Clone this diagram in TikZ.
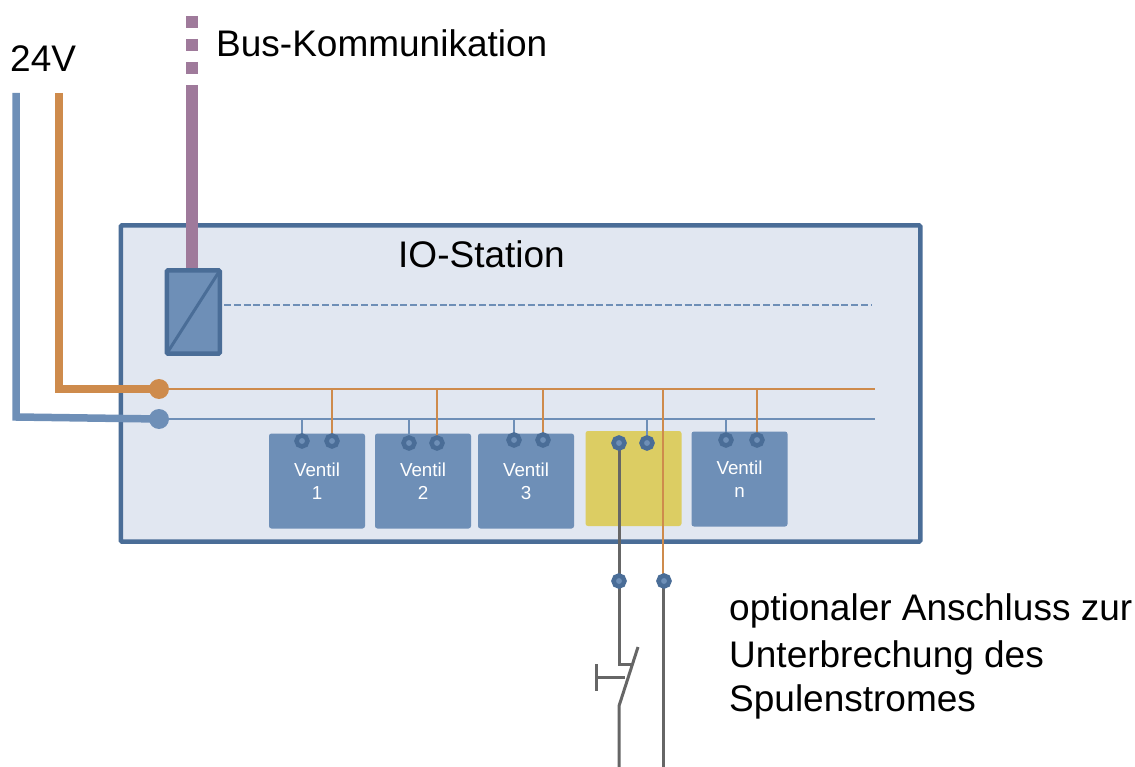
\documentclass[tikz,border=0pt]{standalone}
\usepackage{fontspec}
\setmainfont{Liberation Sans}
\definecolor{cblue}{HTML}{6E8FB7}
\definecolor{cdark}{HTML}{4A6D97}
\definecolor{cfill}{HTML}{E1E7F1}
\definecolor{corange}{HTML}{CE8B4C}
\definecolor{cpurple}{HTML}{9F7A9B}
\definecolor{cyellow}{HTML}{DCCD63}
\definecolor{cgray}{HTML}{666666}
\pgfdeclarelayer{under}
\pgfdeclarelayer{wires}
\pgfsetlayers{under,wires,main}
\tikzset{
  station/.style={draw=cdark,fill=cfill,line width=4.5pt,minimum width=799.5pt,minimum height=316pt,inner sep=0pt,rounded corners=1pt},
  converter/.style={draw=cdark,fill=cblue,line width=4.5pt,minimum width=53pt,minimum height=83pt,inner sep=0pt,outer sep=0pt,rounded corners=1pt},
  valve/.style={fill=cblue,text=white,minimum width=96pt,minimum height=95pt,inner sep=0pt,outer sep=0pt,rounded corners=2.5pt,align=center,font=\fontsize{18.8}{23}\selectfont},
  optbox/.style={fill=cyellow,minimum width=96pt,minimum height=95pt,inner sep=0pt,outer sep=0pt,rounded corners=2.5pt},
  term/.style={circle,draw=cdark,fill=cblue,line width=4.5pt,minimum size=11pt,inner sep=0pt},
  dotO/.style={circle,fill=corange,minimum size=20pt,inner sep=0pt},
  dotB/.style={circle,fill=cblue,minimum size=20pt,inner sep=0pt},
  label/.style={anchor=base west,inner sep=0pt,font=\fontsize{37}{44}\selectfont},
  thickO/.style={draw=corange,line width=7.5pt,line join=miter},
  thickB/.style={draw=cblue,line width=7.5pt,line join=miter},
  thinO/.style={draw=corange,line width=2.8pt},
  thinB/.style={draw=cblue,line width=2.6pt},
  thinG/.style={draw=cgray,line width=3pt},
}
\begin{document}
\begin{tikzpicture}[x=1pt,y=-1pt]
\useasboundingbox (0,0) rectangle (1135,767);
\begin{pgfonlayer}{under}
  \node[station] (io) at (520.5,383.5) {};
  \node[valve] (v1) at (317,481) {Ventil\\1};
  \node[valve] (v2) at (423,481) {Ventil\\2};
  \node[valve] (v3) at (526,481) {Ventil\\3};
  \node[optbox] (opt) at (633.5,478.5) {};
  \node[valve] (vn) at (739.5,479) {Ventil\\n};
\end{pgfonlayer}

\node[converter] (conv) at (193.3,312) {};
\node[dotO] (po) at (159,389) {};
\node[dotB] (pb) at (159,419) {};
\node[term] (a1) at (302,441) {};
\node[term] (b1) at (332,441) {};
\node[term] (a2) at (409,443) {};
\node[term] (b2) at (437,443) {};
\node[term] (a3) at (514,440) {};
\node[term] (b3) at (543,440) {};
\node[term] (a4) at (619,443) {};
\node[term] (b4) at (647,443) {};
\node[term] (an) at (726,440) {};
\node[term] (bn) at (757,440) {};
\node[term] (lg) at (619,581) {};
\node[term] (lo) at (664,581) {};

\node[label] (l24) at (10,72) {24V};
\node[label] (lbus) at (216,57) {Bus-Kommunikation};
\node[label] (lio) at (398,268) {IO-Station};
\node[label] (lo1) at (729,620) {optionaler Anschluss zur};
\node[label] (lo2) at (729,667) {Unterbrechung des};
\node[label] (lo3) at (729,711) {Spulenstromes};

\coordinate (oTop) at (59,93);
\coordinate (oCorner) at (59,389);
\coordinate (bTop) at (16,93);
\coordinate (bCorner) at (16,417);
\coordinate (busTop) at (192,16);
\coordinate (oEnd) at (875,389);
\coordinate (bEnd) at (875,419);
\coordinate (dashEnd) at (872,305);
\coordinate (dashStart) at (224,305);
\coordinate (swA) at (619,664);
\coordinate (swB) at (632,664);
\coordinate (swTop) at (638,647);
\coordinate (swBot) at (619,706);
\coordinate (gEnd) at (619,767);
\coordinate (oTap) at (663,389);
\coordinate (lowR) at (663,767);
\coordinate (pushT) at (596,664);
\coordinate (pushB) at (596,691);
\coordinate (pushM) at (596,677);
\coordinate (pushE) at (625,677);

\begin{pgfonlayer}{wires}
  \draw[cpurple,line width=12pt,dash pattern=on 12pt off 11pt on 12pt off 11pt on 12pt off 11pt on 300pt] (busTop) -- (busTop |- conv.north);
  \draw[thickO] (oTop) -- (oCorner) -- (po.center);
  \draw[thickB] (bTop) -- (bCorner) -- (pb.center);
  \draw[thinO] (po.center) -- (oEnd);
  \draw[thinB] (pb.center) -- (bEnd);
  \foreach \t in {a1,a2,a3,b4,an} \draw[thinB] (\t |- bEnd) -- (\t.center);
  \foreach \t in {b1,b2,b3,bn} \draw[thinO] (\t |- oEnd) -- (\t.center);
  \draw[thinO] (oTap) -- (oTap |- lo.center);
  \draw[thinG] (a4.center) -- (lg.center);
  \draw[thinG,line join=miter] (lg.center) -- (swA) -- (swB);
  \draw[thinG] (swTop) -- (swBot) -- (gEnd);
  \draw[thinG] (oTap |- lo.center) -- (lowR);
  \draw[thinG] (pushT) -- (pushB);
  \draw[thinG] (pushM) -- (pushE);
\end{pgfonlayer}

\draw[cdark,line width=3pt] (conv.south west) -- (conv.north east);
\draw[cblue,line width=2pt,dash pattern=on 7pt off 2.8pt] (dashStart) -- (dashEnd);
\end{tikzpicture}
\end{document}
